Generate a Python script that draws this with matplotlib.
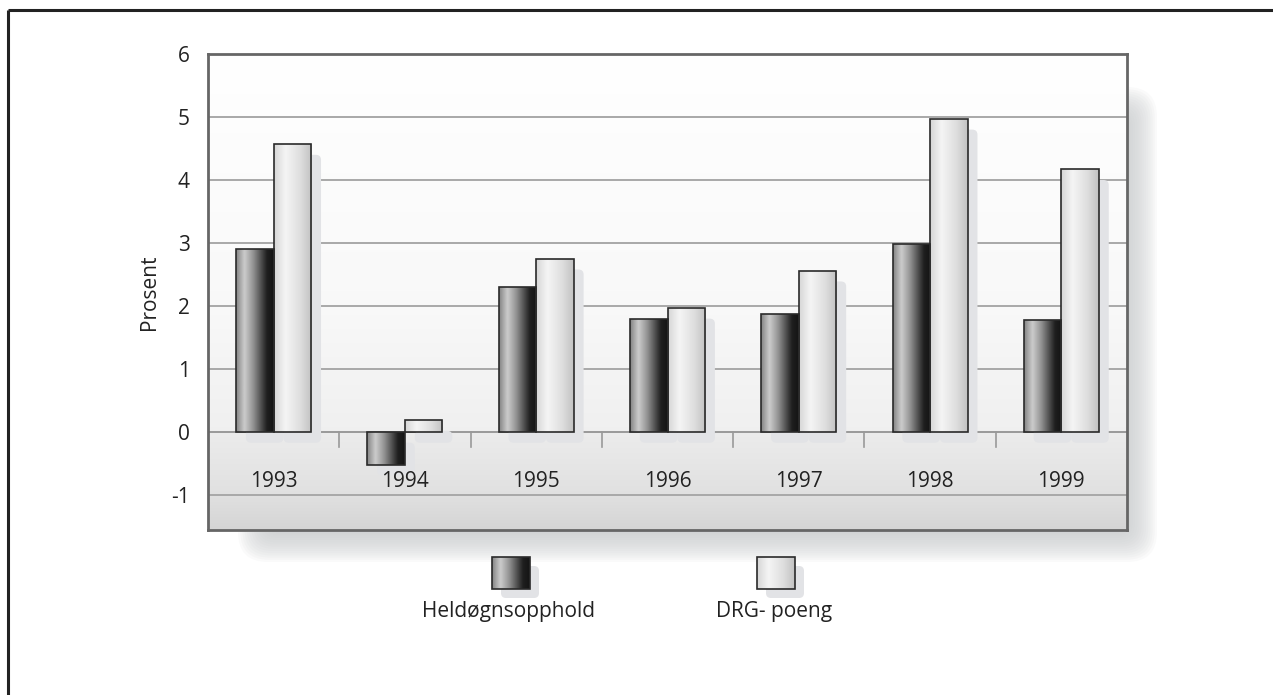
import numpy as np
import matplotlib
matplotlib.use("Agg")
import matplotlib.pyplot as plt
from matplotlib.patches import FancyBboxPatch, Rectangle

# data
years = ["1993", "1994", "1995", "1996", "1997", "1998", "1999"]
heldogn = [2.9, -0.52, 2.3, 1.8, 1.88, 2.98, 1.78]
drg = [4.57, 0.19, 2.75, 1.97, 2.56, 4.97, 4.17]
series_names = ["Heldøgnsopphold", "DRG- poeng"]
yticks = [-1, 0, 1, 2, 3, 4, 5, 6]

plt.rcParams['font.family'] = ['Open Sans', 'DejaVu Sans']
FS = 15

W, H = 1273, 695
fig = plt.figure(figsize=(W / 100, H / 100), dpi=100)

# gradient stops (position across bar, grey level)
DARK = [(0.0, 0.52), (0.22, 0.80), (0.45, 0.58), (0.82, 0.12), (1.0, 0.08)]
LIGHT = [(0.0, 0.84), (0.3, 0.96), (0.7, 0.87), (1.0, 0.76)]


def grad_row(stops, n=64):
    pos = [s[0] for s in stops]
    val = [s[1] for s in stops]
    g = np.interp(np.linspace(0, 1, n), pos, val)
    return np.dstack([g, g, g])


def fill_gradient(ax, patch, stops, z):
    x0, y0 = patch.get_x(), patch.get_y()
    x1, y1 = x0 + patch.get_width(), y0 + patch.get_height()
    im = ax.imshow(grad_row(stops), extent=[x0, x1, min(y0, y1), max(y0, y1)],
                   aspect='auto', interpolation='bicubic', zorder=z)
    im.set_clip_path(patch)


# full-figure overlay in pixel coords: frame, axes shadow, legend
bg = fig.add_axes([0, 0, 1, 1], zorder=0)
bg.set_xlim(0, W)
bg.set_ylim(H, 0)
bg.axis('off')
bg.plot([8, W + 5], [10, 10], color='#222222', lw=2.2, solid_capstyle='butt')
bg.plot([8, 8], [10, H + 5], color='#222222', lw=2.2, solid_capstyle='butt')

# soft shadow of the plot area
for i in range(14):
    k = i * 2.2
    sh = FancyBboxPatch((238 + k, 87 + k), 919 - 2 * k, 475 - 2 * k,
                        boxstyle="round,pad=0,rounding_size=%f" % (30 - k * 0.6),
                        fc='#c8cacd', ec='none', alpha=0.09)
    bg.add_patch(sh)

# main axes
ax = fig.add_axes([208 / W, 1 - 530 / H, 919 / W, 476 / H], zorder=1)
ymin, ymax = -1.555, 6
n = len(years)
ax.set_xlim(-0.5, n - 0.5)
ax.set_ylim(ymin, ymax)

# background gradient of the plot area
yy = np.linspace(ymax, ymin, 300)
lev = np.interp(yy, [ymin, -1, -0.01, 0.01, 2, ymax],
                [0.835, 0.88, 0.925, 0.94, 0.975, 1.0])
bgimg = np.repeat(lev[:, None], 2, axis=1)
ax.imshow(np.dstack([bgimg, bgimg, bgimg]), extent=[-0.5, n - 0.5, ymin, ymax],
          aspect='auto', zorder=0)

for v in yticks:
    ax.axhline(v, color='#a8a8a8' if v != 0 else '#999999', lw=1.4, zorder=1)

x = np.arange(n)
bw = 0.286
sdx, sdy = 0.075, 0.17

for vals, off, stops in [(heldogn, -bw / 2, DARK), (drg, bw / 2, LIGHT)]:
    bars = ax.bar(x + off, vals, bw, facecolor='none', edgecolor='#2a2a2a',
                  lw=1.2, zorder=4)
    for b in bars:
        bx, by = b.get_x(), b.get_y()
        bh = b.get_height()
        top = max(by, by + bh)
        bot = min(by, by + bh)
        shadow = FancyBboxPatch((bx + sdx, bot - sdy), b.get_width(), top - bot,
                                boxstyle="round,pad=0,rounding_size=0.04",
                                mutation_aspect=2.0,
                                fc='#e2e3e6', ec='none', zorder=2)
        ax.add_patch(shadow)
        fill_gradient(ax, b, stops, 3)

# ticks between categories below the zero line
for xb in np.arange(0.5, n - 0.5):
    ax.plot([xb, xb], [0, -0.24], color='#999999', lw=1.2, zorder=1)

for xi, yr in zip(x, years):
    ax.text(xi, -0.78, yr, ha='center', va='center', fontsize=FS, color='#222222')

ax.set_xticks([])
ax.set_yticks(yticks)
ax.set_yticklabels([str(v) for v in yticks], fontsize=FS, color='#222222')
ax.tick_params(axis='y', length=0, pad=13)
for s in ax.spines.values():
    s.set_color('#666666')
    s.set_linewidth(2)
ax.set_ylabel("Prosent", fontsize=FS, color='#222222', labelpad=8)

# legend drawn by hand under the plot area
leg_x = [492, 757]
for lx, stops, name in zip(leg_x, [DARK, LIGHT], series_names):
    shadow = FancyBboxPatch((lx + 9, 566), 38, 32,
                            boxstyle="round,pad=0,rounding_size=5",
                            fc='#e2e3e6', ec='none', zorder=2)
    bg.add_patch(shadow)
    sw = Rectangle((lx, 557), 38, 32, fc='none', ec='#2a2a2a', lw=1.2, zorder=4)
    bg.add_patch(sw)
    im = bg.imshow(grad_row(stops), extent=[lx, lx + 38, 589, 557],
                   aspect='auto', interpolation='bicubic', zorder=3)
    im.set_clip_path(sw)
    bg.text(lx + 17, 611, name, ha='center', va='center', fontsize=FS,
            color='#222222')

bg.set_xlim(0, W)
bg.set_ylim(H, 0)

fig.savefig("out.png", dpi=100)
